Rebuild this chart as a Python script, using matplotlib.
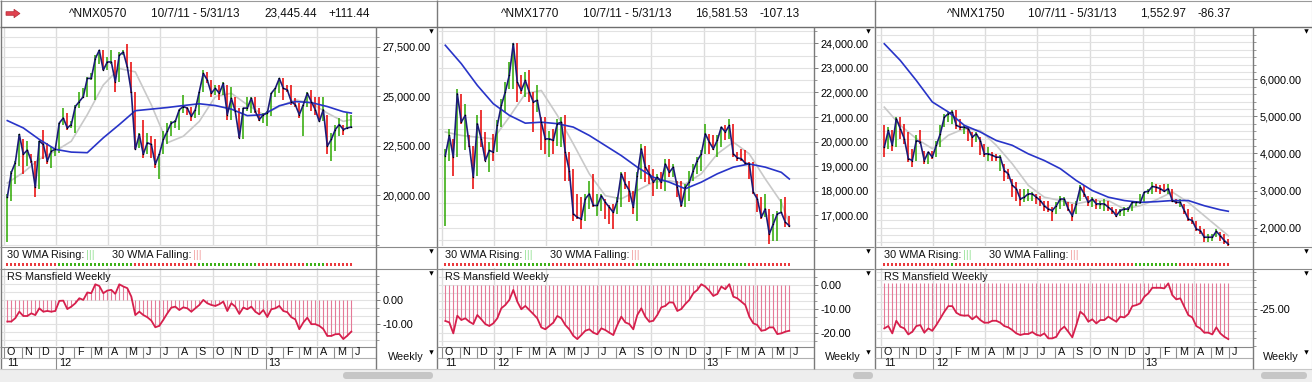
import numpy as np
import pandas as pd
import matplotlib
matplotlib.use('Agg')
import matplotlib.pyplot as plt
from matplotlib.patches import FancyBboxPatch, FancyArrow, Rectangle
from matplotlib.ticker import FixedLocator, MultipleLocator, FuncFormatter

plt.rcParams['font.family'] = ['Liberation Sans', 'DejaVu Sans']
plt.rcParams['axes.unicode_minus'] = False

# ---------------- data ----------------
weeks = pd.date_range('2011-10-07', '2013-05-31', freq='W-FRI')   # 87 weekly bars
months = pd.date_range('2011-10-01', '2013-06-01', freq='MS')
month_labels = ['O', 'N', 'D', 'J', 'F', 'M', 'A', 'M', 'J', 'J', 'A', 'S',
                'O', 'N', 'D', 'J', 'F', 'M', 'A', 'M', 'J']
year_labels = ['11', '12', '13']
ma_weeks = list(range(0, 87, 4)) + [86]

symbols = ['^NMX0570', '^NMX1770', '^NMX1750']
last_values = ['23,445.44', '16,581.53', '1,552.97']
changes = ['+111.44', '-107.13', '-86.37']
period = '10/7/11 - 5/31/13'

close1 = [19900, 21150, 21650, 23070, 22070, 22280, 21730, 20400, 22730, 22570,
          21730, 22230, 22320, 23650, 23900, 23400, 23570, 24480, 24730, 24980,
          25900, 25900, 26900, 27320, 26320, 26730, 26730, 25730, 27070, 27230,
          26480, 25230, 22320, 23070, 22070, 22650, 22570, 21570, 22070, 22820,
          23230, 23650, 23730, 24320, 24480, 24400, 23980, 24320, 25230, 26150,
          25820, 25150, 25400, 25150, 25650, 24070, 24900, 24230, 22900, 24400,
          24400, 24900, 24230, 23820, 24070, 24150, 25150, 25400, 25900, 25400,
          25320, 24730, 24570, 24070, 24570, 25150, 24730, 24320, 23730, 24320,
          22480, 22820, 23320, 23570, 23320, 23400, 23445]
high1 = [20070, 21230, 21730, 23070, 22820, 22730, 22070, 21730, 22730, 23320,
         22650, 22480, 22400, 23650, 24400, 24150, 23730, 24570, 25230, 25400,
         25980, 26150, 27070, 27320, 27320, 26980, 27320, 26820, 27230, 27320,
         27650, 26730, 25230, 23150, 23820, 23150, 22980, 22820, 22070, 23230,
         23650, 23730, 23820, 24320, 25070, 24480, 24480, 24320, 25230, 26320,
         26230, 25820, 25570, 25570, 25730, 25570, 25480, 24980, 24400, 24400,
         24980, 24980, 24980, 24400, 24150, 24230, 25150, 25400, 25900, 25900,
         25570, 25570, 24900, 24650, 24570, 25230, 25320, 24980, 24980, 24980,
         24070, 23150, 23570, 23900, 23570, 24150, 24070]
low1 = [17650, 19730, 20570, 21480, 21070, 21480, 21650, 19900, 20320, 21820,
        21570, 21400, 21980, 22150, 23570, 23320, 23400, 23150, 24400, 24900,
        24980, 25820, 24820, 26650, 26320, 26320, 26650, 25230, 25730, 27070,
        26480, 25150, 22320, 22400, 21900, 22070, 21900, 21400, 20820, 22070,
        22570, 22980, 23400, 23320, 24150, 24070, 23730, 23900, 24070, 25230,
        25650, 24980, 25070, 24820, 25070, 23820, 23820, 24230, 22900, 22820,
        24230, 24150, 24150, 23730, 23650, 23480, 23980, 24980, 25150, 24820,
        25230, 24570, 24480, 23900, 22980, 24480, 24230, 24070, 23730, 23730,
        22070, 21730, 22230, 22980, 23050, 23400, 23440]
ma10_1 = [20620, 21150, 21820, 22230, 22730, 24070, 25570, 26400, 26230, 24570, 22650, 22980,
          23730, 24980, 25150, 24570, 24070, 24480, 24820, 24650, 24150, 23730, 23820]
ma30_1 = [23770, 23400, 22820, 22320, 22180, 22150, 22900, 23570, 24270, 24350, 24430, 24530,
          24620, 24530, 24350, 24020, 24070, 24520, 24730, 24680, 24480, 24220, 24150]
rs1 = [-9.0, -9.0, -7.6, -4.9, -6.7, -6.7, -5.6, -6.3, -3.5, -4.9,
       -4.6, -4.9, -4.6, -0.4, -0.3, -3.8, -2.8, -1.4, 0.7, 0.0,
       3.1, 2.8, 6.5, 5.8, 2.8, 3.9, 4.2, 2.5, 6.5, 5.6,
       4.9, 1.4, -6.3, -4.9, -6.3, -7.2, -8.6, -11.4, -10.8, -8.3,
       -5.6, -3.2, -2.8, -4.2, -3.1, -3.5, -4.9, -3.5, -2.1, 0.0,
       -1.4, -2.1, -2.5, -1.8, -0.7, -4.6, -1.4, -2.8, -5.8, -3.2,
       -3.9, -2.8, -4.9, -6.0, -4.2, -7.1, -3.9, -3.5, -2.5, -4.6,
       -5.1, -7.2, -8.1, -12.2, -9.4, -7.4, -10.1, -10.1, -10.8, -12.1,
       -15.0, -15.0, -14.3, -14.2, -16.3, -14.9, -13.2]
wma1 = [('R', 13), ('G', 19), ('R', 16), ('G', 15), ('R', 12), ('G', 5), ('R', 7)]

close2 = [19430, 20250, 19370, 21950, 20790, 21070, 19840, 18550, 20730, 20110,
          19230, 19640, 19570, 20660, 21470, 22020, 22700, 23990, 22420, 22080,
          22490, 22020, 21610, 21680, 20790, 20110, 20110, 20050, 20730, 20790,
          19570, 18820, 17060, 16920, 16850, 17670, 17870, 17400, 17400, 17800,
          17530, 17330, 17120, 17600, 18690, 18280, 18010, 17330, 18620, 19710,
          18960, 18690, 18350, 18550, 18350, 19090, 18750, 18960, 18140, 17400,
          18140, 18350, 18820, 19230, 19500, 20320, 19980, 19710, 20050, 20590,
          20390, 20660, 19500, 19340, 19300, 19120, 19090, 17940, 17670, 16920,
          17260, 16240, 16650, 17060, 17120, 16720, 16580]
high2 = [19710, 20520, 20110, 22150, 21950, 21540, 20250, 19840, 21070, 21270,
         20390, 19980, 20320, 20860, 21740, 22420, 23240, 24010, 24010, 22700,
         22830, 22900, 22020, 22290, 21000, 21000, 20450, 20520, 20930, 21000,
         21070, 19570, 18890, 17870, 17740, 17870, 18410, 18690, 17870, 17870,
         17670, 17400, 17460, 17740, 18750, 18750, 18410, 18010, 18750, 19910,
         19840, 19030, 18890, 18690, 18750, 19300, 19300, 19090, 18410, 18410,
         18280, 18820, 19090, 19370, 19640, 20730, 20320, 20250, 20250, 20590,
         20660, 20930, 20730, 19570, 19710, 19640, 19160, 19160, 17870, 17740,
         17870, 17260, 17060, 17190, 17670, 17740, 16990]
low2 = [16580, 19230, 18620, 19370, 20730, 19640, 19770, 18080, 18620, 19770,
        19230, 18750, 19230, 19570, 20590, 21200, 22150, 22150, 21610, 21950,
        21810, 21610, 20390, 21200, 19640, 19500, 19370, 19500, 19840, 19770,
        18410, 18410, 16780, 16850, 16440, 16780, 17260, 17330, 16990, 17190,
        16850, 16650, 16440, 17060, 17330, 18080, 17530, 17060, 16780, 18480,
        18350, 18280, 17800, 18080, 18080, 18010, 18550, 18550, 17740, 17330,
        17330, 17600, 18410, 18690, 18820, 19500, 19500, 19640, 19370, 19770,
        20050, 20110, 19370, 19230, 19230, 19030, 18480, 17870, 17120, 16850,
        16920, 15830, 15970, 15970, 17120, 16510, 16510]
ma10_2 = [20390, 20250, 20180, 20110, 21000, 21950, 22080, 21070, 19910, 18690, 17800, 17670,
          18010, 18350, 18410, 18280, 18690, 19500, 19980, 19500, 18480, 17530, 16650]
ma30_2 = [23920, 23170, 22290, 21540, 21070, 20750, 20790, 20730, 20590, 20250, 19840, 19430,
          18960, 18550, 18350, 18080, 18350, 18690, 18960, 19090, 18960, 18750, 18480]
rs2 = [-15.1, -15.7, -20.3, -12.9, -14.7, -14.0, -15.4, -16.4, -12.6, -14.4,
       -16.4, -17.2, -16.1, -14.0, -9.8, -8.4, -6.3, -2.1, -7.0, -10.2,
       -8.8, -10.5, -12.2, -14.0, -17.8, -18.6, -17.2, -15.8, -13.0, -14.0,
       -16.8, -18.6, -21.3, -22.7, -21.0, -19.2, -18.6, -20.0, -20.7, -18.2,
       -18.9, -20.0, -21.0, -16.8, -13.3, -15.7, -16.4, -18.6, -12.6, -9.8,
       -13.3, -15.4, -15.0, -12.6, -9.4, -8.8, -7.3, -7.4, -10.9, -10.1,
       -8.0, -6.3, -3.5, -2.1, 0.3, -0.7, -2.4, -4.6, -3.8, -0.7,
       -1.8, 0.3, -4.9, -5.6, -7.0, -8.4, -13.3, -16.1, -16.8, -19.2,
       -18.9, -17.8, -17.8, -20.6, -20.3, -19.6, -19.2]
wma2 = [('R', 14), ('G', 13), ('R', 21), ('G', 28), ('R', 11)]

close3 = [4170, 4620, 4220, 4940, 4670, 4400, 3860, 3810, 4350, 4310,
          3810, 4040, 3900, 4220, 4530, 4980, 5070, 5120, 4760, 4710,
          4710, 4670, 4440, 4530, 4350, 3990, 3990, 3950, 3900, 3900,
          3540, 3450, 3140, 3050, 2770, 2820, 2910, 2910, 2820, 2730,
          2590, 2500, 2460, 2590, 2770, 2770, 2500, 2320, 2640, 3090,
          2910, 2680, 2770, 2640, 2640, 2640, 2550, 2460, 2320, 2460,
          2500, 2500, 2680, 2680, 2680, 2960, 2980, 3110, 3090, 3050,
          2980, 3050, 2730, 2680, 2680, 2460, 2230, 2190, 1960, 1920,
          1740, 1740, 1740, 1900, 1780, 1650, 1553]
high3 = [4760, 4710, 4620, 4980, 4980, 4800, 4580, 4130, 4490, 4620,
         4080, 4040, 4080, 4350, 4760, 5070, 5120, 5160, 5160, 4940,
         4760, 4710, 4580, 4580, 4440, 4260, 4170, 4040, 3990, 3950,
         3720, 3590, 3320, 3230, 3050, 3050, 3050, 2960, 2910, 2860,
         2730, 2730, 2550, 2680, 2860, 2820, 2680, 2640, 2730, 3140,
         3140, 2860, 2820, 2770, 2730, 2770, 2730, 2550, 2500, 2500,
         2550, 2550, 2730, 2730, 2910, 2960, 3050, 3230, 3180, 3140,
         3180, 3180, 3050, 2770, 2770, 2640, 2500, 2280, 2190, 2050,
         1960, 1830, 1830, 1960, 1870, 1830, 1690]
low3 = [3900, 4130, 4080, 4170, 4400, 4260, 3770, 3630, 3810, 4260,
        3720, 3720, 3860, 3900, 4170, 4710, 4850, 4800, 4670, 4620,
        4530, 4350, 4170, 4310, 3950, 3900, 3810, 3810, 3810, 3540,
        3270, 3320, 2820, 2730, 2590, 2680, 2730, 2730, 2640, 2590,
        2460, 2410, 2190, 2370, 2500, 2590, 2460, 2190, 2370, 2730,
        2820, 2590, 2550, 2500, 2500, 2460, 2460, 2370, 2280, 2320,
        2320, 2410, 2460, 2590, 2640, 2680, 2910, 2910, 2960, 2910,
        2960, 2910, 2680, 2640, 2550, 2370, 2190, 2100, 1920, 1830,
        1600, 1600, 1650, 1740, 1650, 1560, 1510]
ma10_3 = [5250, 4760, 4400, 4130, 4490, 4670, 4620, 4220, 3720, 3140, 2820, 2730,
          2640, 2730, 2730, 2500, 2590, 2750, 2960, 2680, 2320, 1960, 1780]
ma30_3 = [6960, 6510, 5970, 5390, 5120, 4760, 4580, 4350, 4220, 3990, 3810, 3590,
          3270, 3000, 2820, 2730, 2680, 2700, 2730, 2730, 2590, 2480, 2440]
rs3 = [-38.2, -36.6, -41.6, -33.0, -37.0, -38.2, -42.3, -40.5, -36.6, -35.9,
       -41.1, -38.2, -39.8, -35.9, -31.4, -26.8, -23.0, -23.0, -27.5, -29.1,
       -29.5, -29.3, -32.0, -29.8, -32.5, -34.3, -34.3, -33.0, -33.0, -34.3,
       -36.6, -37.5, -39.3, -41.6, -42.7, -42.0, -42.0, -40.7, -42.5, -43.2,
       -41.6, -45.0, -45.0, -43.9, -39.3, -37.0, -40.5, -44.3, -35.9, -26.8,
       -29.1, -33.6, -32.0, -34.8, -32.5, -32.5, -30.2, -32.0, -33.6, -30.2,
       -30.7, -28.4, -23.0, -22.3, -21.1, -16.6, -14.3, -10.5, -10.5, -10.5,
       -10.9, -7.5, -15.5, -18.4, -17.7, -23.4, -29.1, -30.7, -36.6, -38.2,
       -41.1, -41.1, -42.3, -37.5, -41.6, -43.9, -45.5]
wma3 = [('R', 17), ('G', 1), ('R', 45), ('G', 11), ('R', 13)]

# ---------------- layout ----------------
W, H = 1312, 382
panels = [
    dict(L=0, fb=7.3, spine=376, price=(close1, high1, low1, ma10_1, ma30_1),
         ylim=(17440, 28495), majors=[20000, 22500, 25000, 27500], minor=500,
         rs=rs1, rs_base=0, rs_lim=(-19.2, 13.3), rs_majors=[0, -10], rs_minor=10 / 3,
         wma=wma1, head=[69, 151, 264, 328], thumb=(340, 436)),
    dict(L=437, fb=8.3, spine=377, price=(close2, high2, low2, ma10_2, ma30_2),
         ylim=(15752, 24663), majors=list(range(17000, 24001, 1000)), minor=500,
         rs=rs2, rs_base=0, rs_lim=(-25.6, 7.1), rs_majors=[0, -10, -20], rs_minor=10 / 3,
         wma=wma2, head=[64, 146, 258, 322], thumb=(850, 876)),
    dict(L=875, fb=9.3, spine=378, price=(close3, high3, low3, ma10_3, ma30_3),
         ylim=(1503, 7413), majors=[2000, 3000, 4000, 5000, 6000], minor=200,
         rs=rs3, rs_base=-7.5, rs_lim=(-50.2, 3.0), rs_majors=[-25], rs_minor=5,
         wma=wma3, head=[72, 153, 265, 322], thumb=(1258, 1310)),
]

x = np.arange(len(weeks))
mpos = np.asarray((months - weeks[0]).days) / 7.0
qpos = mpos[np.isin(months.month, [1, 4, 7, 10])]
ypos = mpos[months.month == 1]

GREEN, RED = '#2ca800', '#e80000'
GRID = '#e2e2e2'
LINE = '#8a8a8a'

fig = plt.figure(figsize=(W / 100, H / 100), dpi=100)


def px_axes(x0, y0, x1, y1):
    return fig.add_axes([x0 / W, 1 - y1 / H, (x1 - x0) / W, (y1 - y0) / H])


def bare(ax):
    for s in ax.spines.values():
        s.set_visible(False)
    ax.set_xticks([])


price_fmt = FuncFormatter(lambda v, p: f'{v:,.2f}')
rs_fmt = FuncFormatter(lambda v, p: f'{v:.2f}')

for p in panels:
    L, fb = p['L'], p['fb']
    x0, x1 = L + 1.5, L + p['spine']
    xlim = ((x0 - L - fb) / 4, (x1 - L - fb) / 4)
    close, high, low, ma10, ma30 = p['price']

    # price panel
    ax = px_axes(x0, 27, x1, 246)
    bare(ax)
    ax.set_xlim(*xlim)
    ax.set_ylim(*p['ylim'])
    ax.yaxis.tick_right()
    ax.yaxis.set_major_locator(FixedLocator(p['majors']))
    ax.yaxis.set_minor_locator(MultipleLocator(p['minor']))
    ax.yaxis.set_major_formatter(price_fmt)
    ax.tick_params(axis='y', which='major', length=3, width=0.6, color='#666',
                   labelsize=7.8, pad=1.5)
    ax.tick_params(axis='y', which='minor', length=2, width=0.6, color='#888')
    ax.grid(True, which='both', axis='y', color=GRID, lw=0.8)
    ax.set_axisbelow(True)
    for q in qpos:
        ax.axvline(q, color='#dcdcdc', lw=1.0, zorder=0)
    cols = []
    for i in x:
        ref = close[i - 1] if i > 0 else (high[i] + low[i]) / 2
        cols.append(GREEN if close[i] >= ref else RED)
    ax.plot(ma_weeks, ma10, color='#c9c9c9', lw=1.2, zorder=1)
    ax.vlines(x, low, high, colors=cols, lw=1.1, zorder=2)
    ax.plot(ma_weeks, ma30, color='#2834c8', lw=1.2, zorder=3)
    ax.plot(x, close, color='#1c1c78', lw=1.2, zorder=4)
    ax.plot(x, close, 's', ms=0.9, color='black', mew=0, zorder=5)

    # 30 WMA strip
    st = px_axes(x0, 246, x1, 268)
    bare(st)
    st.set_yticks([])
    st.set_xlim(*xlim)
    st.set_ylim(22, 0)
    flags = [c for c, n in p['wma'] for _ in range(n)]
    st.vlines(x, 16.7, 20.3, colors=[GREEN if f == 'G' else '#e8262a' for f in flags], lw=1.3)

    # RS Mansfield panel
    ra = px_axes(x0, 268, x1, 346)
    bare(ra)
    ra.set_xlim(*xlim)
    ra.set_ylim(*p['rs_lim'])
    ra.yaxis.tick_right()
    ra.yaxis.set_major_locator(FixedLocator(p['rs_majors']))
    ra.yaxis.set_minor_locator(MultipleLocator(p['rs_minor']))
    ra.yaxis.set_major_formatter(rs_fmt)
    ra.tick_params(axis='y', which='major', length=3, width=0.6, color='#666',
                   labelsize=7.8, pad=1.5)
    ra.tick_params(axis='y', which='minor', length=2, width=0.6, color='#888')
    ra.grid(True, which='both', axis='y', color=GRID, lw=0.8)
    ra.set_axisbelow(True)
    for q in qpos:
        ra.axvline(q, color='#dcdcdc', lw=1.0, zorder=0)
    ra.vlines(x, p['rs_base'], p['rs'], colors='#e57a98', lw=0.8, zorder=2)
    ra.plot(x, p['rs'], color='#d61f4c', lw=1.3, zorder=3)

# ---------------- overlay: frames, headers, axis labels ----------------
ov = fig.add_axes([0, 0, 1, 1], facecolor='none')
ov.set_xlim(0, W)
ov.set_ylim(H, 0)
ov.axis('off')


def hline(x0, x1, y, c=LINE, lw=0.8):
    ov.plot([x0, x1], [y, y], color=c, lw=lw, solid_capstyle='butt')


def vline(xx, y0, y1, c=LINE, lw=0.8):
    ov.plot([xx, xx], [y0, y1], color=c, lw=lw, solid_capstyle='butt')


ov.add_patch(Rectangle((0, 368.5), W, 14, color='#eeeeee', lw=0))
hline(0, W, 0.5, '#9a9a9a')
for xx in [0.5, 437, 875]:
    vline(xx, 0, 368.5, '#7a7a7a', 1.0)
vline(W - 0.5, 0, 368.5, '#9a9a9a')

for k, p in enumerate(panels):
    L, fb = p['L'], p['fb']
    x0, x1 = L + 1.5, L + p['spine']
    R = L + 437 if k < 2 else W
    hline(L, R, 26.5, '#6e6e6e', 1.0)
    hline(L, R, 246.5)
    hline(L, R, 268.5)
    hline(L, x1, 346.5)
    hline(L, x1, 357.5, '#b0b0b0')
    hline(L, R, 368.5, '#c8c8c8')
    vline(x1, 26.5, 368.5, '#7a7a7a', 1.0)

    hx = [L + h for h in p['head']]
    for xx, s in zip(hx, [symbols[k], period, last_values[k], changes[k]]):
        ov.text(xx, 14, s, fontsize=8.5, va='center', ha='left', color='#111')

    ov.text(L + fb - 0.3, 254.5, '30 WMA Rising:', fontsize=7.8, va='center', color='#111')
    ov.text(L + fb + 79, 254.5, '|||', fontsize=7.8, va='center', color='#9be39b')
    ov.text(L + fb + 105, 254.5, '30 WMA Falling:', fontsize=7.8, va='center', color='#111')
    ov.text(L + fb + 186, 254.5, '|||', fontsize=7.8, va='center', color='#f3a5a5')
    ov.text(L + fb - 0.3, 276.5, 'RS Mansfield Weekly', fontsize=7.8, va='center', color='#111')

    for yy in [31, 251, 273, 352]:
        ov.plot(L + 431, yy, marker='v', ms=3.2, color='black', mec='none')
    ov.text(L + 387.5, 357, 'Weekly', fontsize=7.8, va='center', ha='left', color='#111')

    # month row
    for mp, lab in zip(mpos, month_labels):
        mx = L + fb + 4 * mp
        if x0 < mx < x1:
            vline(mx, 346.5, 357.5, '#8c8c8c')
        tx = max(mx, x0) + 2.5
        if tx < x1 - 4:
            ov.text(tx, 352, lab, fontsize=7.8, va='center', ha='left', color='#111')
    # year row
    ov.text(L + fb - 0.5, 363, year_labels[0], fontsize=7.8, va='center', ha='left', color='#111')
    for yp, lab in zip(ypos, year_labels[1:]):
        yx = L + fb + 4 * yp
        vline(yx, 357.5, 368.5, '#8c8c8c')
        ov.text(yx + 3, 363, lab, fontsize=7.8, va='center', ha='left', color='#111')

    t0, t1 = p['thumb']
    ov.add_patch(FancyBboxPatch((t0 + 3, 372), t1 - t0 - 6, 7,
                                boxstyle='round,pad=0,rounding_size=3.5',
                                fc='#c6c6c6', ec='none'))

ov.add_patch(FancyArrow(6, 13.5, 14, 0, width=3.6, head_width=8.5, head_length=6,
                        length_includes_head=True, fc='#e0424f', ec='#b22a36', lw=0.5))

fig.savefig('out.png', dpi=100)
